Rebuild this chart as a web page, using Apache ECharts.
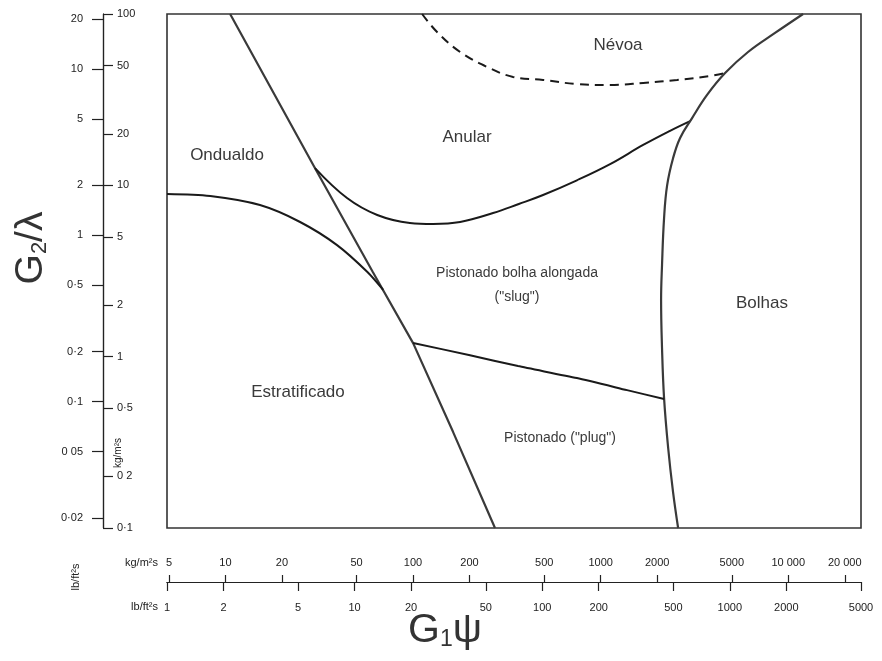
<!DOCTYPE html>
<html><head><meta charset="utf-8">
<script src="https://cdn.jsdelivr.net/npm/echarts@6/dist/echarts.min.js"></script>
<style>html,body{margin:0;padding:0;background:#fff}#c{width:882px;height:661px}</style>
</head><body><div id="c"></div>
<script>
// unit conversion lb/ft²s -> kg/m²s
const LB_TO_KG = 4.882;

// ---- tick values and labels ----
const yTicksLb  = [20, 10, 5, 2, 1, 0.5, 0.2, 0.1, 0.05, 0.02];
const yLabelsLb = ['20', '10', '5', '2', '1', '0·5', '0·2', '0·1', '0 05', '0·02'];
const yTicksKg  = [100, 50, 20, 10, 5, 2, 1, 0.5, 0.2, 0.1];
const yLabelsKg = ['100', '50', '20', '10', '5', '2', '1', '0·5', '0 2', '0·1'];
const xTicksKg  = [5, 10, 20, 50, 100, 200, 500, 1000, 2000, 5000, 10000, 20000];
const xLabelsKg = ['5', '10', '20', '50', '100', '200', '500', '1000', '2000', '5000', '10 000', '20 000'];
const xTicksLb  = [1, 2, 5, 10, 20, 50, 100, 200, 500, 1000, 2000, 5000];
const xLabelsLb = ['1', '2', '5', '10', '20', '50', '100', '200', '500', '1000', '2000', '5000'];

// ---- regime boundaries: [G1ψ (lb/ft²s), G2/λ (kg/m²s)] ----
const stratBoundary   = [[2.17,100],[6.30,12.0],[12.5,3.12],[20.5,1.20],[33.5,0.363],[56.0,0.1]];
const wavyBoundary    = [[1,8.90],[1.70,8.66],[3.13,7.67],[5.12,6.11],[8.06,4.48],[11.7,3.12],[14.2,2.45]];
const annularBoundary = [[6.15,12.6],[9.11,8.43],[13.2,6.71],[19.7,6.03],[26.2,5.95],[36.5,6.11],[54.7,6.89],[75.0,7.78],[101,8.78],[153,10.7],[230,13.3],[345,17.2],[480,20.8],[614,23.7]];
const mistBoundary    = [[22.9,100],[27.5,78.5],[36.5,60.0],[50.8,49.1],[69.9,42.9],[101,41.2],[153,39.0],[230,38.5],[345,39.6],[523,41.2],[784,43.5],[943,45.2]];
const bubbleBoundary  = [[2456,100],[1741,77.5],[1250,60.0],[943,45.2],[756,33.7],[629,24.7],[543,18.9],[498,14.4],[463,10.0],[446,6.44],[435,3.43],[430,2.14],[435,1.12],[446,0.573],[469,0.293],[498,0.162],[530,0.1]];
const slugPlugBoundary= [[20.5,1.20],[41.2,1.02],[74.3,0.881],[153,0.750],[283,0.638],[446,0.566]];

// region names
const regionNames = ['Névoa','Anular','Ondualdo','Pistonado bolha alongada','("slug")','Bolhas','Estratificado','Pistonado ("plug")'];

function lookup(ticks, labels) {
  return function (v) {
    let best = 0, bd = 1e9;
    ticks.forEach((t, i) => { const d = Math.abs(Math.log10(v) - Math.log10(t)); if (d < bd) { bd = d; best = i; } });
    return labels[best];
  };
}
const FONT = 'Liberation Sans';
const ink = '#222';
const tickLabel = { fontSize: 11, color: ink, fontFamily: FONT };

const chart = echarts.init(document.getElementById('c'));
function mkLine(data, opts) {
  return Object.assign({
    type: 'line', xAxisIndex: 0, yAxisIndex: 0, data: data, showSymbol: false, symbol: 'none',
    silent: true, lineStyle: { color: '#1a1a1a', width: 2 }
  }, opts);
}
const T = (text, x, y, size, extra) => Object.assign({
  type: 'text', x: x, y: y, silent: true,
  style: { text: text, fontSize: size, fontFamily: FONT, fill: '#3a3a3a', align: 'center', verticalAlign: 'middle' }
}, extra || {});

chart.setOption({
  animation: false,
  backgroundColor: '#fff',
  grid: [
    { left: 167, top: 14, width: 694, height: 514, show: true, borderColor: '#333', borderWidth: 1.6, outerBoundsMode: 'none' },
    { left: 103, top: 14, width: 0, height: 514, outerBoundsMode: 'none' },
    { left: 167, top: 582, width: 694, height: 0, outerBoundsMode: 'none' }
  ],
  xAxis: [
    { gridIndex: 0, type: 'log', min: 1, max: 5000, show: false },
    { gridIndex: 1, type: 'value', min: 0, max: 1, show: false },
    { gridIndex: 2, type: 'log', position: 'top', min: 1 * LB_TO_KG, max: 5000 * LB_TO_KG,
      axisLine: { show: true, lineStyle: { color: ink, width: 1.2 } },
      axisTick: { show: true, customValues: xTicksKg, length: 7, lineStyle: { color: ink, width: 1.2 } },
      axisLabel: Object.assign({ customValues: xTicksKg, formatter: lookup(xTicksKg, xLabelsKg), margin: 14 }, tickLabel),
      splitLine: { show: false } },
    { gridIndex: 2, type: 'log', position: 'bottom', min: 1, max: 5000,
      axisLine: { show: true, lineStyle: { color: ink, width: 1.2 } },
      axisTick: { show: true, customValues: xTicksLb, length: 9, lineStyle: { color: ink, width: 1.2 } },
      axisLabel: Object.assign({ customValues: xTicksLb, formatter: lookup(xTicksLb, xLabelsLb), margin: 20 }, tickLabel),
      splitLine: { show: false } }
  ],
  yAxis: [
    { gridIndex: 0, type: 'log', min: 0.1, max: 100, show: false },
    { gridIndex: 1, type: 'log', position: 'left', min: 0.0174, max: 21.4,
      axisLine: { show: true, lineStyle: { color: ink, width: 1.2 } },
      axisTick: { show: true, customValues: yTicksLb, length: 11, lineStyle: { color: ink, width: 1.2 } },
      axisLabel: Object.assign({ customValues: yTicksLb, formatter: lookup(yTicksLb, yLabelsLb), margin: 20 }, tickLabel),
      splitLine: { show: false } },
    { gridIndex: 1, type: 'log', position: 'right', min: 0.1, max: 100,
      axisLine: { show: true, lineStyle: { color: ink, width: 1.2 } },
      axisTick: { show: true, customValues: yTicksKg, length: 10, lineStyle: { color: ink, width: 1.2 } },
      axisLabel: Object.assign({ customValues: yTicksKg, formatter: lookup(yTicksKg, yLabelsKg), margin: 14 }, tickLabel),
      splitLine: { show: false } },
    { gridIndex: 2, type: 'value', min: 0, max: 1, show: false }
  ],
  series: [
    mkLine(stratBoundary, { lineStyle: { color: '#3a3a3a', width: 2.2 } }),
    mkLine(wavyBoundary, { smooth: 0.3 }),
    mkLine(annularBoundary, { smooth: 0.4 }),
    mkLine(mistBoundary, { smooth: 0.4, lineStyle: { color: '#1a1a1a', width: 2, type: [9, 6] } }),
    mkLine(bubbleBoundary, { smooth: 0.4, lineStyle: { color: '#3a3a3a', width: 2.2 } }),
    mkLine(slugPlugBoundary, { smooth: 0.2 })
  ],
  graphic: [
    T(regionNames[0], 618, 45, 17),
    T(regionNames[1], 467, 137, 17),
    T(regionNames[2], 227, 155, 17),
    T(regionNames[3], 517, 273, 14),
    T(regionNames[4], 517, 297, 14),
    T(regionNames[5], 762, 303, 17),
    T(regionNames[6], 298, 392, 17),
    T(regionNames[7], 560, 438, 14),
    { type: 'text', x: 31, y: 248, rotation: Math.PI / 2, silent: true,
      style: { text: '{g|G}{s|2}{g|/λ}', fontFamily: FONT, fill: '#333', align: 'center', verticalAlign: 'middle',
        rich: { g: { fontSize: 39, fontFamily: FONT, fill: '#333' }, s: { fontSize: 22, fontFamily: FONT, fill: '#333', verticalAlign: 'bottom' } } } },
    { type: 'text', x: 445, y: 631, silent: true,
      style: { text: '{g|G}{s|1}{g|ψ}', fontFamily: FONT, fill: '#333', align: 'center', verticalAlign: 'middle',
        rich: { g: { fontSize: 41, fontFamily: FONT, fill: '#333' }, s: { fontSize: 23, fontFamily: FONT, fill: '#333', verticalAlign: 'bottom' } } } },
    { type: 'text', x: 158, y: 563, silent: true, style: { text: 'kg/m²s', fontSize: 11, fontFamily: FONT, fill: ink, align: 'right', verticalAlign: 'middle' } },
    { type: 'text', x: 158, y: 607, silent: true, style: { text: 'lb/ft²s', fontSize: 11, fontFamily: FONT, fill: ink, align: 'right', verticalAlign: 'middle' } },
    { type: 'text', x: 76, y: 577, rotation: Math.PI / 2, silent: true, style: { text: 'lb/ft²s', fontSize: 11, fontFamily: FONT, fill: ink, align: 'center', verticalAlign: 'middle' } },
    { type: 'text', x: 118, y: 453, rotation: Math.PI / 2, silent: true, style: { text: 'kg/m²s', fontSize: 10, fontFamily: FONT, fill: ink, align: 'center', verticalAlign: 'middle' } }
  ]
});
</script></body></html>
